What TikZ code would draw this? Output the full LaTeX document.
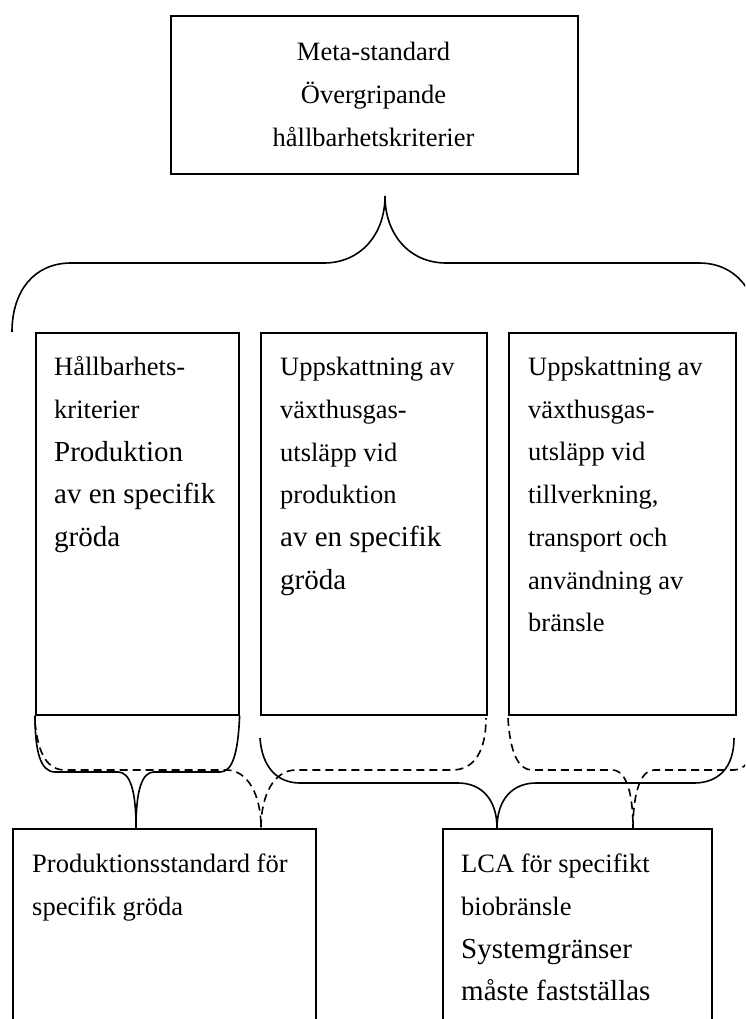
\documentclass[tikz,border=0pt]{standalone}
\usepackage{fontspec}
\setmainfont{Liberation Serif}
\newcommand{\smalltxt}{\fontsize{26.5}{42.7}\selectfont}
\newcommand{\bigtxt}{\fontsize{29}{42.7}\selectfont}
\begin{document}
\begin{tikzpicture}[x=1pt,y=-1pt,
  box/.style={draw,line width=1.6pt,inner sep=0pt,anchor=north west},
  txt/.style={inner sep=0pt,anchor=base west},
  brace/.style={line width=1.6pt},
  dbrace/.style={line width=1.6pt,dash pattern=on 8pt off 5pt}]
\useasboundingbox (0,0) rectangle (745,1019);
\clip (0,0) rectangle (745,1019);
% boxes
\node[box,minimum width=407pt,minimum height=158pt] (top) at (170,15) {};
\node[box,minimum width=203pt,minimum height=382pt] (b1) at (35,332) {};
\node[box,minimum width=226pt,minimum height=382pt] (b2) at (260,332) {};
\node[box,minimum width=227pt,minimum height=382pt] (b3) at (508,332) {};
\node[box,minimum width=303pt,minimum height=220pt] (bl) at (12,828) {};
\node[box,minimum width=269pt,minimum height=220pt] (br) at (442,828) {};
% texts
\node[inner sep=0pt,anchor=base] (ttop) at (373.5,60.7) {\parbox[t]{400pt}{\centering\smalltxt Meta-standard\\Övergripande\\hållbarhetskriterier}};
\node[txt] (t1) at (54,375.7) {\parbox[t]{190pt}{\raggedright\smalltxt Hållbarhets-\\kriterier\\{\bigtxt Produktion}\\{\bigtxt av en specifik}\\{\bigtxt gröda}}};
\node[txt] (t2) at (280,375.7) {\parbox[t]{210pt}{\raggedright\smalltxt Uppskattning av\\växthusgas-\\utsläpp vid\\produktion\\{\bigtxt av en specifik}\\{\bigtxt gröda}}};
\node[txt] (t3) at (528,375.5) {\parbox[t]{210pt}{\raggedright\smalltxt Uppskattning av\\växthusgas-\\utsläpp vid\\tillverkning,\\transport och\\användning av\\bränsle}};
\node[txt] (tl) at (32,872.5) {\parbox[t]{290pt}{\raggedright\smalltxt Produktionsstandard för\\specifik gröda}};
\node[txt] (tr) at (461,872.7) {\parbox[t]{250pt}{\raggedright\smalltxt LCA för specifikt\\biobränsle\\{\bigtxt Systemgränser}\\{\bigtxt måste fastställas}}};
% brace tips
\coordinate (tipT) at (385,196);
\coordinate (tipS1) at (bl.north -| 136,0);
\coordinate (tipD1) at (bl.north -| 261,0);
\coordinate (tipS2) at (br.north -| 497,0);
\coordinate (tipD2) at (br.north -| 633,0);
% big brace under the top box
\draw[brace] (12,332) .. controls (12,290) and (35,263) .. (71,263) -- (324,263)
  .. controls (360,263) and (385,235) .. (tipT)
  .. controls (385,235) and (410,263) .. (446,263) -- (699,263)
  .. controls (735,263) and (758,290) .. (758,332);
% solid brace 1
\draw[brace] (b1.south west) .. controls (35,750) and (40,772) .. (55,772) -- (118,772)
  .. controls (130,772) and (136,790) .. (tipS1)
  .. controls (136,790) and (142,772) .. (154,772) -- (220,772)
  .. controls (232,772) and (238,755) .. (b1.south east);
% dashed brace 1
\draw[dbrace] (35,722) .. controls (38,755) and (48,770) .. (65,770) -- (226,770)
  .. controls (248,770) and (261,795) .. (tipD1)
  .. controls (261,795) and (274,770) .. (296,770) -- (452,770)
  .. controls (475,770) and (486,750) .. (486,718);
% solid brace 2
\draw[brace] (260,738) .. controls (262,768) and (278,783) .. (300,783) -- (458,783)
  .. controls (482,783) and (497,800) .. (tipS2)
  .. controls (497,800) and (512,783) .. (536,783) -- (694,783)
  .. controls (718,783) and (734,768) .. (734,738);
% dashed brace 2
\draw[dbrace] (508,718) .. controls (510,752) and (518,770) .. (532,770) -- (612,770)
  .. controls (627,770) and (633,795) .. (tipD2)
  .. controls (633,795) and (640,770) .. (654,770) -- (734,770)
  .. controls (748,770) and (757,752) .. (757,718);
\end{tikzpicture}
\end{document}
